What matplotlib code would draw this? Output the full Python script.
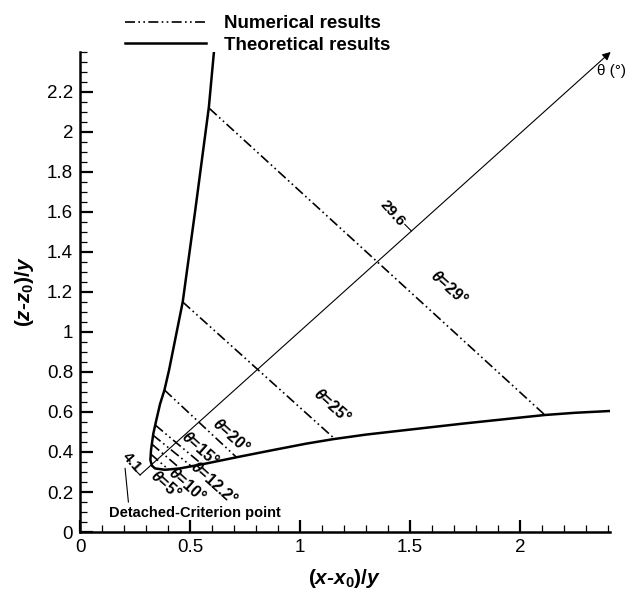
import matplotlib
matplotlib.use("Agg")
import matplotlib.pyplot as plt
from matplotlib.ticker import MultipleLocator

plt.rcParams['font.family'] = ['Liberation Sans', 'DejaVu Sans']
plt.rcParams['mathtext.fontset'] = 'custom'
plt.rcParams['mathtext.rm'] = 'Liberation Sans:bold'
plt.rcParams['mathtext.it'] = 'Liberation Sans:italic:bold'
plt.rcParams['mathtext.bf'] = 'Liberation Sans:bold'

# theoretical curve (left branch top -> bottom -> right branch)
theo_x = [0.609, 0.586, 0.523, 0.467, 0.405, 0.384, 0.364, 0.345, 0.333, 0.323,
          0.320, 0.327, 0.341, 0.386, 0.455, 0.576, 0.727, 0.879, 1.03, 1.15,
          1.3, 1.5, 1.75, 2.0, 2.114, 2.25, 2.41]
theo_z = [2.40, 2.125, 1.6, 1.15, 0.81, 0.71, 0.64, 0.55, 0.49, 0.41,
          0.36, 0.332, 0.318, 0.311, 0.318, 0.343, 0.377, 0.41, 0.442, 0.464,
          0.487, 0.512, 0.543, 0.572, 0.585, 0.596, 0.605]

# numerical results: one straight segment per theta
num_theta = ['5', '10', '12.2', '15', '20', '25', '29']
num_x0 = [0.321, 0.326, 0.331, 0.342, 0.384, 0.467, 0.588]
num_z0 = [0.39, 0.44, 0.485, 0.535, 0.71, 1.15, 2.118]
num_x1 = [0.403, 0.455, 0.505, 0.555, 0.712, 1.159, 2.114]
num_z1 = [0.312, 0.318, 0.33, 0.338, 0.373, 0.465, 0.585]

# label positions for theta labels
lab_x = [0.39, 0.49, 0.61, 0.549, 0.689, 1.145, 1.68]
lab_z = [0.24, 0.24, 0.245, 0.418, 0.485, 0.635, 1.225]

# theta axis
axis_start = (0.273, 0.285)
axis_end = (2.413, 2.40)
tick_vals = ['4.1', '29.6']
tick_x = [0.273, 1.507]
tick_z = [0.285, 1.505]
tick_lx = [0.235, 1.42]
tick_lz = [0.35, 1.595]

fig = plt.figure(figsize=(6.27, 5.90), dpi=100)
ax = fig.add_axes([0.1276, 0.0983, 0.8453, 0.8136])

num_style = (0, (6, 2, 1, 2, 1, 2))
for i in range(len(num_theta)):
    ln, = ax.plot([num_x0[i], num_x1[i]], [num_z0[i], num_z1[i]], color='black',
                  lw=1.2, linestyle=num_style)
    ax.text(lab_x[i], lab_z[i], r'$\theta$=' + num_theta[i] + '°', rotation=-42,
            ha='center', va='center', fontsize=11.5, fontweight='bold')
num_line = ln
theo_line, = ax.plot(theo_x, theo_z, color='black', lw=1.8)

# theta axis with arrow
ax.annotate('', xy=axis_end, xytext=axis_start, annotation_clip=False,
            arrowprops=dict(arrowstyle='-|>', color='black', lw=0.8,
                            mutation_scale=12, shrinkA=0, shrinkB=0))
ax.text(2.352, 2.305, 'θ (°)', fontsize=11, ha='left', va='center')
for v, tx, tz, lx, lz in zip(tick_vals, tick_x, tick_z, tick_lx, tick_lz):
    ax.plot([tx, tx - 0.03], [tz, tz + 0.033], color='black', lw=0.8)
    ax.text(lx, lz, v, rotation=-48, ha='center', va='center',
            fontsize=11, fontweight='bold')

# detached-criterion point annotation
ax.plot([0.205, 0.22], [0.318, 0.15], color='black', lw=0.8)
ax.text(0.523, 0.095, 'Detached-Criterion point', ha='center', va='center',
        fontsize=10.5, fontweight='bold')

ax.set_xlim(0, 2.41)
ax.set_ylim(0, 2.4)
ax.xaxis.set_minor_locator(MultipleLocator(0.1))
ax.yaxis.set_minor_locator(MultipleLocator(0.05))
ax.set_xticks([0, 0.5, 1, 1.5, 2])
ax.set_xticklabels(['0', '0.5', '1', '1.5', '2'])
yt = [0, 0.2, 0.4, 0.6, 0.8, 1, 1.2, 1.4, 1.6, 1.8, 2, 2.2]
ax.set_yticks(yt)
ax.set_yticklabels(['0', '0.2', '0.4', '0.6', '0.8', '1', '1.2', '1.4', '1.6', '1.8', '2', '2.2'])
ax.tick_params(which='major', direction='in', length=9, width=1.6, labelsize=13.5, pad=5)
ax.tick_params(which='minor', direction='in', length=5, width=0.9)
for s in ['top', 'right']:
    ax.spines[s].set_visible(False)
for s in ['left', 'bottom']:
    ax.spines[s].set_linewidth(1.8)

ax.set_xlabel(r'$(x$-$x_0)/y$', fontsize=15, fontweight='bold', fontstyle='italic', labelpad=8)
ax.set_ylabel(r'$(z$-$z_0)/y$', fontsize=15, fontweight='bold', fontstyle='italic', labelpad=8)

fig.legend([num_line, theo_line], ['Numerical results', 'Theoretical results'],
           loc='upper left', bbox_to_anchor=(110 / 627, 1 - 0 / 590), frameon=False,
           prop={'weight': 'bold', 'size': 13.5}, handlelength=4.3, handletextpad=1.0,
           labelspacing=0.25, borderpad=0.3)

fig.savefig('out.png', dpi=100)
